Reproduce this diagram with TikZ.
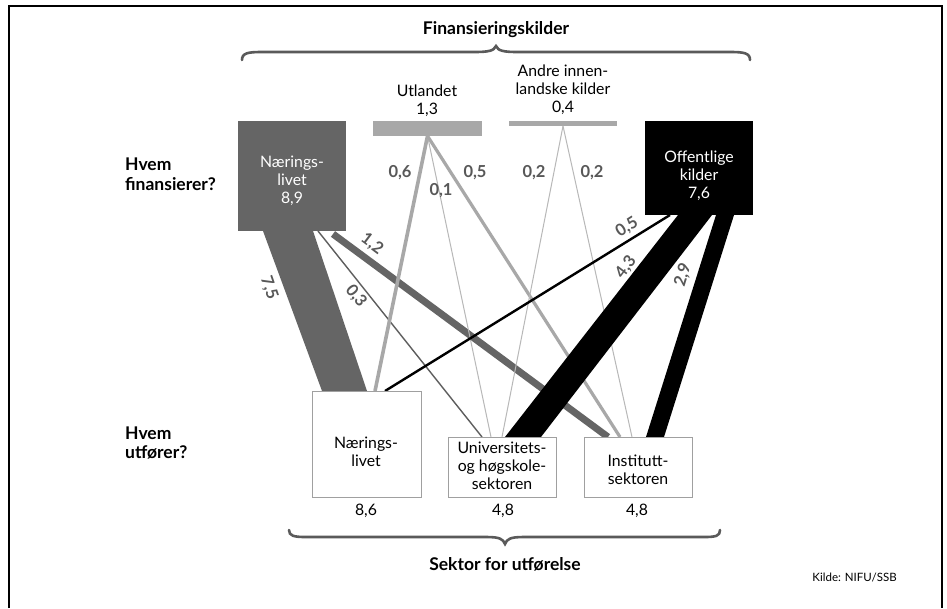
\documentclass[tikz,border=0pt]{standalone}
\usepackage{fontspec}
\setmainfont{Lato}
\usetikzlibrary{calc}
\definecolor{ngray}{HTML}{656565}
\definecolor{lgray}{HTML}{A8A8A8}
\definecolor{tgray}{HTML}{B8B8B8}
\definecolor{dgray}{HTML}{5E5E5E}
\definecolor{lblgray}{HTML}{585858}
\definecolor{bordergray}{HTML}{A0A0A0}
\definecolor{bracegray}{HTML}{5A5A5A}
\begin{document}
\begin{tikzpicture}[x=1pt,y=-1pt,
  txt/.style={font=\fontsize{15.8}{17.8}\selectfont, align=center, inner sep=0pt},
  head/.style={font=\fontsize{17.5}{19.5}\selectfont\bfseries, align=left, inner sep=0pt},
  val/.style={font=\fontsize{16.5}{18}\selectfont\bfseries, text=lblgray, inner sep=0pt},
  srcbox/.style={inner sep=0pt, outer sep=0pt},
  dstbox/.style={draw=bordergray, line width=0.8pt, fill=white, inner sep=0pt, outer sep=0pt},
  bracestyle/.style={draw=bracegray, line width=2.6pt, line cap=round}
]
\useasboundingbox (0,0) rectangle (947,608);
\fill[white] (0,0) rectangle (947,608);
\draw[line width=1.5pt] (9,608) -- (9,6) -- (942,6) -- (942,608);

% headings
\node[head, align=center] (fin) at (496,30) {Finansieringskilder};
\draw[bracestyle] (242,60) .. controls (242,53) and (248,52) .. (262,52) -- (474,52)
  .. controls (488,52) and (494,51) .. (496,46)
  .. controls (498,51) and (504,52) .. (518,52) -- (730,52)
  .. controls (744,52) and (750,53) .. (750,60);
\node[head, anchor=west] (hf) at (125,174) {Hvem\\finansierer?};
\node[head, anchor=west] (hu) at (125,443) {Hvem\\utfører?};

% source boxes
\node[srcbox, fill=ngray, minimum width=108pt, minimum height=110pt] (ntop) at (292,176) {};
\node[srcbox, fill=black, minimum width=108pt, minimum height=94pt] (otop) at (699,168) {};
\node[srcbox, fill=lgray, minimum width=109pt, minimum height=15pt] (utop) at (427.5,128.5) {};
\node[srcbox, fill=lgray, minimum width=108pt, minimum height=5pt] (atop) at (563,123.5) {};

% destination boxes
\node[dstbox, minimum width=109pt, minimum height=106pt] (nbot) at (366.5,444) {};
\node[dstbox, minimum width=108pt, minimum height=60pt] (ubot) at (502,467) {};
\node[dstbox, minimum width=108pt, minimum height=60pt] (ibot) at (638,467) {};

% flows from Naeringslivet
\fill[ngray] ($(ntop.south west)+(25,0)$) -- ($(ntop.south west)+(75,0)$)
  -- ($(nbot.north west)+(55,0)$) -- ($(nbot.north west)+(10,0)$) -- cycle;
\draw[dgray, line width=1.4pt] ($(ntop.south west)+(80,0)$) -- ($(ubot.north west)+(34,0)$);
\draw[ngray, line width=7pt] ($(ntop.south west)+(95,3)$) -- ($(ibot.north west)+(24,0)$);

% flows from Utlandet
\draw[lgray, line width=3.6pt] (utop.south) -- ($(nbot.north west)+(63,0)$);
\draw[tgray, line width=1pt] (utop.south) -- ($(ubot.north west)+(43,0)$);
\draw[lgray, line width=3.2pt] (utop.south) -- ($(ibot.north west)+(36,0)$);

% flows from Andre
\draw[tgray, line width=1pt] (atop.south) -- ($(ubot.north west)+(54,0)$);
\draw[tgray, line width=1pt] (atop.south) -- ($(ibot.north west)+(48,0)$);

% flows from Offentlige
\draw[black, line width=2.4pt] ($(otop.south west)+(25,0)$) -- ($(nbot.north west)+(73,0)$);
\fill[black] ($(otop.south west)+(33,0)$) -- ($(otop.south west)+(67,0)$)
  -- ($(ubot.north west)+(93,0)$) -- ($(ubot.north west)+(57,0)$) -- cycle;
\fill[black] ($(otop.south west)+(71,0)$) -- ($(otop.south west)+(89,0)$)
  -- ($(ibot.north west)+(80,0)$) -- ($(ibot.north west)+(62,0)$) -- cycle;

% redraw boxes on top
\node[srcbox, fill=ngray, minimum width=108pt, minimum height=110pt] at (ntop) {};
\node[srcbox, fill=black, minimum width=108pt, minimum height=94pt] at (otop) {};
\node[dstbox, minimum width=109pt, minimum height=106pt] at (nbot) {};
\node[dstbox, minimum width=108pt, minimum height=60pt] at (ubot) {};
\node[dstbox, minimum width=108pt, minimum height=60pt] at (ibot) {};

% box texts
\node[txt, text=white] (ntopt) at (292,181) {Nærings-\\livet\\8,9};
\node[txt, text=white] (otopt) at (699,176) {Offentlige\\kilder\\7,6};
\node[txt] (utopt) at (427,101) {Utlandet\\1,3};
\node[txt] (atopt) at (563,90) {Andre innen-\\landske kilder\\0,4};
\node[txt] (nbott) at (366,452) {Nærings-\\livet};
\node[txt] (ubott) at (502,466) {Universitets-\\og høgskole-\\sektoren};
\node[txt] (ibott) at (638,470) {Institutt-\\sektoren};
\node[txt] (v1) at (366,511) {8,6};
\node[txt] (v2) at (503,511) {4,8};
\node[txt] (v3) at (637,511) {4,8};

% flow labels
\node[val, rotate=-71] (l75) at (269,288) {7,5};
\node[val, rotate=-51] (l03) at (356,296) {0,3};
\node[val, rotate=-37] (l12) at (372,244) {1,2};
\node[val] (l06) at (400,173) {0,6};
\node[val] (l01) at (441,191) {0,1};
\node[val] (l05a) at (475,173) {0,5};
\node[val] (l02a) at (534,173) {0,2};
\node[val] (l02b) at (592,173) {0,2};
\node[val, rotate=32] (l05b) at (627,227) {0,5};
\node[val, rotate=53] (l43) at (626,267) {4,3};
\node[val, rotate=73] (l29) at (683,275) {2,9};

% bottom brace
\draw[bracestyle] (289,530) .. controls (289,536) and (294,537) .. (306,537) -- (486,537)
  .. controls (500,537) and (503,539) .. (505,544)
  .. controls (507,539) and (510,537) .. (524,537) -- (704,537)
  .. controls (716,537) and (720,536) .. (720,530);
\node[head] (sek) at (505,564) {Sektor for utførelse};
\node[font=\fontsize{11.5}{14}\selectfont, inner sep=0pt, anchor=east] (kilde) at (897,578) {Kilde: NIFU/SSB};
\end{tikzpicture}
\end{document}
